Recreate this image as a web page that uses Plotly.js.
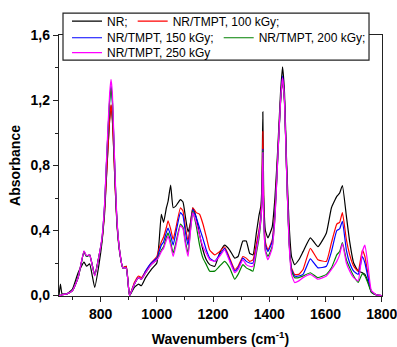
<!DOCTYPE html>
<html>
<head>
<meta charset="utf-8">
<script src="https://cdn.plot.ly/plotly-3.0.1.min.js"></script>
<style>html,body{margin:0;padding:0;background:#fff;}#chart{width:397px;height:347px;}</style>
</head>
<body>
<div id="chart"></div>
<script>
// Wavenumber grid (cm-1), shared by all series
const wavenumbers = [652,657,663,680,700,720,741,750,761,779,795,805,814,820,826,832,837,842,847,852,858,868,879,891,903,920,935,945,960,980,1000,1008,1016,1024,1034,1040,1049,1058,1067,1084,1093,1102,1111,1120,1128,1140,1152,1164,1176,1188,1206,1223,1241,1259,1277,1289,1306,1318,1330,1342,1354,1363,1370,1374,1377,1380,1386,1395,1410,1420,1430,1440,1447,1454,1461,1470,1479,1490,1505,1520,1546,1573,1603,1621,1640,1650,1660,1674,1686,1700,1716,1731,1740,1750,1763,1781,1800];

const absNR = [0.00,0.07,0.01,0.01,0.04,0.14,0.205,0.18,0.195,0.05,0.20,0.33,0.50,0.70,0.90,1.08,1.17,1.08,0.88,0.66,0.44,0.26,0.17,0.18,0.00,0.05,0.07,0.06,0.11,0.16,0.20,0.33,0.50,0.45,0.54,0.58,0.68,0.54,0.55,0.59,0.575,0.48,0.39,0.45,0.54,0.48,0.375,0.28,0.22,0.19,0.18,0.26,0.31,0.28,0.23,0.24,0.335,0.335,0.26,0.25,0.385,0.49,0.55,0.70,1.13,0.62,0.40,0.355,0.42,0.60,0.90,1.25,1.407,1.25,0.85,0.45,0.24,0.19,0.22,0.27,0.355,0.30,0.385,0.54,0.61,0.63,0.677,0.49,0.33,0.20,0.15,0.14,0.13,0.09,0.026,0.005,0.00];

const abs100 = [0.00,0.00,0.005,0.01,0.03,0.11,0.27,0.24,0.25,0.125,0.25,0.34,0.52,0.71,0.90,1.08,1.175,1.08,0.88,0.66,0.45,0.27,0.17,0.18,0.00,0.08,0.12,0.11,0.15,0.20,0.24,0.29,0.33,0.36,0.42,0.46,0.41,0.345,0.41,0.54,0.52,0.415,0.335,0.45,0.54,0.51,0.50,0.44,0.36,0.28,0.25,0.27,0.30,0.23,0.16,0.18,0.24,0.23,0.21,0.22,0.32,0.40,0.50,0.65,1.01,0.55,0.33,0.28,0.34,0.52,0.86,1.20,1.34,1.20,0.80,0.36,0.17,0.13,0.13,0.16,0.29,0.22,0.21,0.325,0.44,0.45,0.51,0.345,0.25,0.18,0.15,0.28,0.24,0.14,0.02,0.003,0.00];

const abs150 = [0.00,0.00,0.005,0.01,0.03,0.11,0.27,0.24,0.25,0.125,0.25,0.35,0.55,0.78,1.00,1.20,1.29,1.20,0.96,0.70,0.46,0.27,0.17,0.17,0.00,0.07,0.11,0.10,0.15,0.20,0.23,0.27,0.31,0.33,0.39,0.415,0.37,0.31,0.38,0.51,0.49,0.385,0.31,0.43,0.53,0.48,0.415,0.35,0.28,0.23,0.21,0.25,0.29,0.22,0.15,0.17,0.23,0.21,0.20,0.20,0.29,0.38,0.48,0.60,0.90,0.50,0.31,0.27,0.33,0.50,0.85,1.20,1.35,1.20,0.80,0.35,0.16,0.12,0.12,0.13,0.225,0.17,0.18,0.27,0.40,0.41,0.457,0.28,0.20,0.15,0.13,0.24,0.20,0.12,0.02,0.003,0.00];

const abs200 = [0.00,0.00,0.005,0.01,0.03,0.11,0.27,0.24,0.25,0.125,0.25,0.35,0.55,0.78,1.00,1.19,1.28,1.19,0.95,0.70,0.46,0.27,0.17,0.17,0.00,0.07,0.11,0.10,0.14,0.19,0.22,0.25,0.28,0.30,0.36,0.385,0.33,0.26,0.32,0.44,0.42,0.33,0.26,0.41,0.52,0.43,0.31,0.23,0.19,0.15,0.15,0.18,0.21,0.17,0.10,0.13,0.19,0.17,0.16,0.15,0.26,0.35,0.46,0.58,0.89,0.48,0.28,0.24,0.30,0.48,0.84,1.19,1.33,1.19,0.79,0.34,0.15,0.11,0.11,0.12,0.14,0.11,0.13,0.17,0.25,0.27,0.325,0.22,0.17,0.12,0.08,0.135,0.12,0.08,0.02,0.003,0.00];

const abs250 = [0.00,0.00,0.005,0.01,0.03,0.11,0.275,0.245,0.25,0.12,0.25,0.36,0.56,0.80,1.03,1.24,1.33,1.24,0.98,0.72,0.47,0.27,0.17,0.17,0.00,0.07,0.11,0.10,0.14,0.19,0.22,0.24,0.27,0.29,0.34,0.365,0.31,0.24,0.30,0.43,0.41,0.31,0.24,0.40,0.51,0.45,0.37,0.30,0.26,0.22,0.21,0.24,0.28,0.21,0.14,0.16,0.22,0.19,0.18,0.18,0.28,0.37,0.47,0.58,0.88,0.48,0.27,0.22,0.29,0.47,0.84,1.20,1.34,1.20,0.79,0.33,0.13,0.08,0.09,0.11,0.13,0.10,0.12,0.16,0.21,0.25,0.32,0.20,0.15,0.11,0.09,0.27,0.31,0.20,0.03,0.004,0.00];

const seriesNames = ["NR;", "NR/TMPT, 100 kGy;", "NR/TMPT, 150 kGy;", "NR/TMPT, 200 kGy;", "NR/TMPT, 250 kGy"];
const seriesColors = ["#000000", "#ff0000", "#0000ff", "#008000", "#ff00ff"];
const seriesLegends = ["legend", "legend", "legend2", "legend2", "legend3"];
const seriesValues = [absNR, abs100, abs150, abs200, abs250];

const xTitle = "Wavenumbers (cm<sup>-1</sup>)";
const yTitle = "Absorbance";

const traces = seriesValues.map((vals, i) => ({
  x: wavenumbers,
  y: vals,
  type: "scatter",
  mode: "lines",
  name: seriesNames[i],
  legend: seriesLegends[i],
  line: {color: seriesColors[i], width: 1.2, shape: "spline", smoothing: 0.4}
}));

const fontFam = "Liberation Sans, Arial, sans-serif";
const legBase = {orientation: "h", xanchor: "left", yanchor: "top", x: 0.0248,
  bgcolor: "rgba(0,0,0,0)", borderwidth: 0, font: {family: fontFam, size: 12, color: "#000"}};

const layout = {
  width: 397, height: 347,
  margin: {l: 59, r: 15, t: 35, b: 51, autoexpand: false},
  paper_bgcolor: "#fff", plot_bgcolor: "#fff",
  separators: ",.",
  font: {family: fontFam, color: "#000"},
  showlegend: true,
  xaxis: {
    range: [652, 1800.8], tick0: 0, dtick: 200, ticklabeloverflow: "allow",
    ticks: "outside", ticklen: 5, tickwidth: 1, tickcolor: "#222",
    minor: {dtick: 100, ticks: "outside", ticklen: 3, tickcolor: "#222", showgrid: false},
    showgrid: false, zeroline: false,
    showline: true, linecolor: "#222", linewidth: 1.2, mirror: true,
    tickfont: {family: fontFam, size: 14, weight: "bold", color: "#000"},
    title: {text: xTitle, font: {family: fontFam, size: 14, weight: "bold", color: "#000"}, standoff: 15}
  },
  yaxis: {
    range: [-0.003, 1.603], tick0: 0, dtick: 0.4, tickformat: ".1f", ticklabeloverflow: "allow",
    ticks: "outside", ticklen: 5, tickwidth: 1, tickcolor: "#222",
    minor: {dtick: 0.2, ticks: "outside", ticklen: 3, tickcolor: "#222", showgrid: false},
    showgrid: false, zeroline: false,
    showline: true, linecolor: "#222", linewidth: 1.2, mirror: true,
    tickfont: {family: fontFam, size: 14, weight: "bold", color: "#000"},
    title: {text: yTitle, font: {family: fontFam, size: 14, weight: "bold", color: "#000"}, standoff: 6}
  },
  legend: Object.assign({}, legBase, {y: 1.109}),
  legend2: Object.assign({}, legBase, {y: 1.045}),
  legend3: Object.assign({}, legBase, {y: 0.988}),
  shapes: [{
    type: "rect", xref: "paper", yref: "paper", layer: "above",
    x0: 0.0124, x1: 0.9598, y0: 0.904, y1: 1.084,
    line: {color: "#222", width: 1.2}, fillcolor: "#fff"
  }]
};

Plotly.newPlot("chart", traces, layout, {displayModeBar: false, staticPlot: true});
</script>
</body>
</html>
